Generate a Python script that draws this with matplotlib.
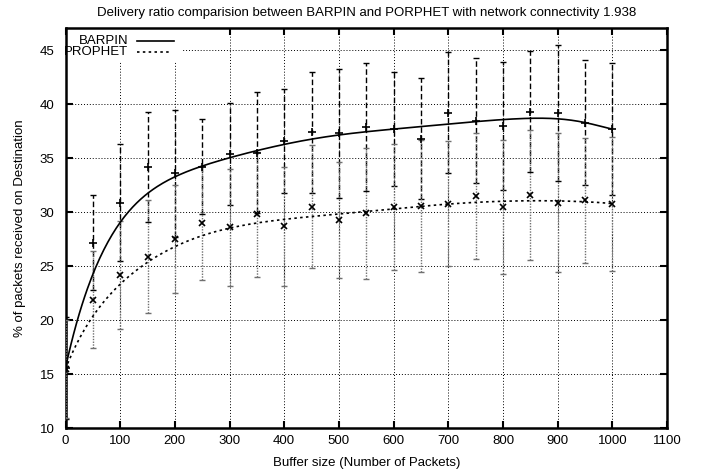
import numpy as np
import matplotlib
matplotlib.use("Agg")
import matplotlib.pyplot as plt
from matplotlib.patches import Rectangle
from matplotlib.lines import Line2D
from math import comb

plt.rcParams['font.family'] = ['Liberation Sans', 'DejaVu Sans']
plt.rcParams['font.size'] = 9.5

buffer_size = [0, 50, 100, 150, 200, 250, 300, 350, 400, 450, 500,
               550, 600, 650, 700, 750, 800, 850, 900, 950, 1000]
barpin = [15.6, 27.2, 30.9, 34.2, 33.6, 34.2, 35.4, 35.5, 36.6, 37.4, 37.3,
          37.9, 37.7, 36.8, 39.2, 38.5, 38.0, 39.3, 39.2, 38.3, 37.7]
barpin_err = [4.7, 4.4, 5.4, 5.1, 5.9, 4.4, 4.7, 5.6, 4.8, 5.6, 6.0,
              5.9, 5.3, 5.6, 5.6, 5.8, 5.9, 5.6, 6.3, 5.8, 6.1]
prophet = [15.5, 21.9, 24.2, 25.9, 27.5, 29.0, 28.6, 29.8, 28.7, 30.5, 29.3,
           29.9, 30.5, 30.6, 30.8, 31.5, 30.5, 31.6, 30.9, 31.1, 30.8]
prophet_err = [4.5, 4.5, 5.0, 5.2, 5.0, 5.3, 5.4, 5.8, 5.5, 5.7, 5.4,
               6.1, 5.8, 6.1, 5.8, 5.8, 6.2, 6.0, 6.4, 5.8, 6.2]

title = "Delivery ratio comparision between BARPIN and PORPHET with network connectivity 1.938"
xlabel = "Buffer size (Number of Packets)"
ylabel = "% of packets received on Destination"
series_labels = ["BARPIN", "PROPHET"]
xticks = list(range(0, 1101, 100))
yticks = list(range(10, 46, 5))


def bezier(xs, ys, n=400):
    xs = np.asarray(xs, float)
    ys = np.asarray(ys, float)
    m = len(xs) - 1
    t = np.linspace(0, 1, n)
    bx = np.zeros(n)
    by = np.zeros(n)
    for i in range(m + 1):
        b = comb(m, i) * t**i * (1 - t)**(m - i)
        bx += b * xs[i]
        by += b * ys[i]
    return bx, by


fig = plt.figure(figsize=(7.05, 4.72), dpi=100)
ax = fig.add_axes([65.5/705, 1 - 428.3/472, (667-65.5)/705, (428.3-28.3)/472])
ax.set_axisbelow(True)

# error bars
eb1 = ax.errorbar(buffer_size, barpin, yerr=barpin_err, fmt='none',
                  ecolor='black', elinewidth=1.0, capsize=2, capthick=1.0, zorder=3)
eb1[2][0].set_linestyle((0, (4, 2)))
eb2 = ax.errorbar(buffer_size, prophet, yerr=prophet_err, fmt='none',
                  ecolor='#707070', elinewidth=1.0, capsize=2, capthick=1.0, zorder=3)
eb2[2][0].set_linestyle((0, (1, 1)))

# markers
ax.plot(buffer_size, barpin, linestyle='none', marker='+', markersize=6,
        markeredgewidth=1.2, color='black', zorder=4)
ax.plot(buffer_size, prophet, linestyle='none', marker='x', markersize=5,
        markeredgewidth=1.2, color='black', zorder=4)

# bezier smoothed curves
bx, by = bezier(buffer_size, barpin)
ax.plot(bx, by, color='black', linewidth=1.2, zorder=4)
px, py = bezier(buffer_size, prophet)
ax.plot(px, py, color='black', linewidth=1.2, linestyle=(0, (1.5, 2)), zorder=4)

ax.set_xlim(0, 1100)
ax.set_ylim(10, 47.04)
ax.set_xticks(xticks)
ax.set_yticks(yticks)
ax.grid(True, color='black', linestyle=(0, (1, 2)), linewidth=0.7)
ax.tick_params(direction='in', length=5, width=1.5, top=True, right=True,
               labeltop=False, labelright=False)
ax.tick_params(axis='y', pad=8)
ax.tick_params(axis='x', pad=5)
for s in ax.spines.values():
    s.set_linewidth(1.8)

ax.set_title(title, fontsize=9.5, pad=8.5)
ax.set_xlabel(xlabel, labelpad=7)
ax.set_ylabel(ylabel, labelpad=10)

# legend (gnuplot style key)
ax.add_patch(Rectangle((0.0, 0.916), 0.194, 0.084, transform=ax.transAxes,
                       facecolor='white', edgecolor='none', zorder=2))
ax.text(0.104, 0.968, series_labels[0], transform=ax.transAxes, ha='right', va='center',
        zorder=5, clip_on=False)
ax.text(0.104, 0.941, series_labels[1], transform=ax.transAxes, ha='right', va='center',
        zorder=5, clip_on=False)
ax.add_line(Line2D([0.119, 0.180], [0.968, 0.968], transform=ax.transAxes,
                   color='black', linewidth=1.2, zorder=5))
ax.add_line(Line2D([0.119, 0.176], [0.941, 0.941], transform=ax.transAxes,
                   color='black', linewidth=1.2, linestyle=(0, (1.5, 2)), zorder=5))

fig.savefig("out.png", dpi=100)
